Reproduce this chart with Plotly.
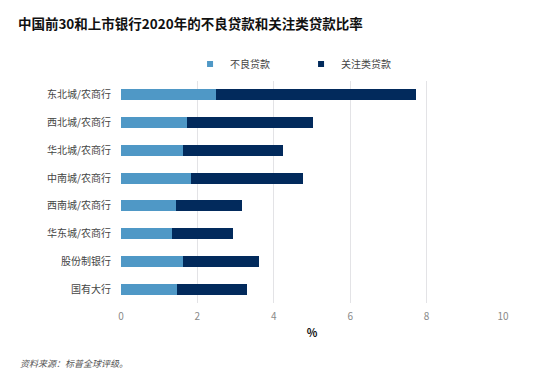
import plotly.graph_objects as go

categories = ["东北城/农商行", "西北城/农商行", "华北城/农商行", "中南城/农商行",
              "西南城/农商行", "华东城/农商行", "股份制银行", "国有大行"]
npl = [2.48, 1.74, 1.62, 1.84, 1.43, 1.33, 1.61, 1.47]
special_mention = [5.25, 3.28, 2.63, 2.93, 1.75, 1.60, 2.00, 1.82]
series_names = ["不良贷款", "关注类贷款"]
colors = ["#4F98C6", "#022A5C"]
x_ticks = [0, 2, 4, 6, 8, 10]

cats = categories[::-1]
FONT = "Noto Sans CJK SC"

fig = go.Figure()
for vals, name, col in zip([npl, special_mention], series_names, colors):
    fig.add_trace(go.Bar(y=cats, x=vals[::-1], orientation="h", name=name,
                         marker=dict(color=col, line=dict(width=0)), width=0.4,
                         showlegend=False))
# legend entries with small square markers
for name, col in zip(series_names, colors):
    fig.add_trace(go.Scatter(x=[None], y=[None], mode="markers", name=name,
                             marker=dict(symbol="square", size=6, color=col),
                             showlegend=True))

fig.update_layout(
    width=550, height=373,
    barmode="stack",
    paper_bgcolor="white", plot_bgcolor="white",
    margin=dict(l=113, r=55, t=73, b=78, autoexpand=False),
    font=dict(family=FONT, color="#444444"),
    title=dict(text="<b>中国前30和上市银行2020年的不良贷款和关注类贷款比率</b>",
               x=0.018, xanchor="left", xref="container",
               y=0.957, yanchor="middle", yref="container",
               font=dict(family=FONT, size=13.5, color="#111111")),
    legend=dict(orientation="h", x=0.331, y=0.85, xanchor="left", yanchor="middle",
                xref="container", yref="container",
                font=dict(family=FONT, size=10, color="#444444"),
                itemwidth=30, entrywidth=66, traceorder="normal"),
    showlegend=True,
    xaxis=dict(range=[0, 10], tickvals=x_ticks, showgrid=True, gridcolor="#E3E3E6",
               gridwidth=1, zeroline=False, showline=False, ticklabelstandoff=6,
               tickfont=dict(family=FONT, size=10, color="#8A8A8A"),
               title=dict(text="<b>%</b>", font=dict(family=FONT, size=11, color="#111111"),
                          standoff=7)),
    yaxis=dict(showgrid=False, zeroline=False, showline=False, ticks="",
               ticklabelstandoff=9,
               tickfont=dict(family=FONT, size=10, color="#444444")),
    annotations=[dict(text="<i>资料来源：标普全球评级。</i>", x=(10 - 113) / 382, xref="paper",
                      xanchor="left", y=(295 - 355) / 222, yref="paper", yanchor="middle",
                      showarrow=False,
                      font=dict(family=FONT, size=9, color="#555555"))],
)

fig.write_html("out.html")
